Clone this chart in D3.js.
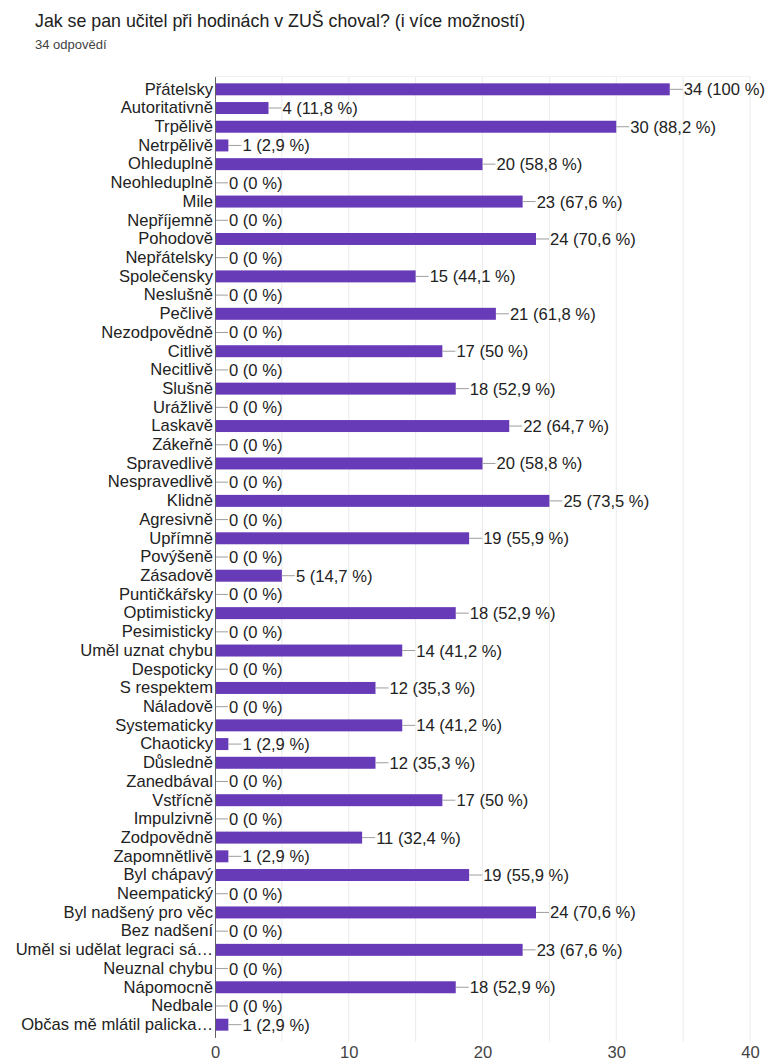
<!DOCTYPE html>
<html>
<head>
<meta charset="utf-8">
<script src="https://cdn.jsdelivr.net/npm/d3@7"></script>
<style>
  body { margin: 0; background: #fff; }
  svg text { font-family: "Liberation Sans", Arial, sans-serif; }
</style>
</head>
<body>
<svg id="chart" width="767" height="1062"></svg>
<script>
var categories = [
  "Přátelsky", "Autoritativně", "Trpělivě", "Netrpělivě", "Ohleduplně", "Neohleduplně",
  "Mile", "Nepříjemně", "Pohodově", "Nepřátelsky", "Společensky", "Neslušně",
  "Pečlivě", "Nezodpovědně", "Citlivě", "Necitlivě", "Slušně", "Urážlivě",
  "Laskavě", "Zákeřně", "Spravedlivě", "Nespravedlivě", "Klidně", "Agresivně",
  "Upřímně", "Povýšeně", "Zásadově", "Puntičkářsky", "Optimisticky", "Pesimisticky",
  "Uměl uznat chybu", "Despoticky", "S respektem", "Náladově", "Systematicky", "Chaoticky",
  "Důsledně", "Zanedbával", "Vstřícně", "Impulzivně", "Zodpovědně", "Zapomnětlivě",
  "Byl chápavý", "Neempatický", "Byl nadšený pro věc", "Bez nadšení",
  "Uměl si udělat legraci sá…", "Neuznal chybu", "Nápomocně", "Nedbale",
  "Občas mě mlátil palicka…"
];
var counts = [
  34, 4, 30, 1, 20, 0,
  23, 0, 24, 0, 15, 0,
  21, 0, 17, 0, 18, 0,
  22, 0, 20, 0, 25, 0,
  19, 0, 5, 0, 18, 0,
  14, 0, 12, 0, 14, 1,
  12, 0, 17, 0, 11, 1,
  19, 0, 24, 0,
  23, 0, 18, 0,
  1
];
var totalResponses = 34;
var xTicks = [0, 10, 20, 30, 40];

var svg = d3.select("#chart"),
  margin = { top: 76.6, right: 17, bottom: 24.6, left: 215 },
  width = +svg.attr("width"),
  height = +svg.attr("height");

var data = categories.map((c, i) => ({ name: c, value: counts[i] }));

// title
svg.append("text")
  .attr("x", 35).attr("y", 27)
  .style("font-size", "17.8px").style("fill", "#212121")
  .text("Jak se pan učitel při hodinách v ZUŠ choval? (i více možností)");
svg.append("text")
  .attr("x", 35).attr("y", 49)
  .style("font-size", "13px").style("fill", "#424242")
  .text(totalResponses + " odpovědí");

var x = d3.scaleLinear().domain([0, 40]).range([margin.left, width - margin.right]);
var y = d3.scaleBand()
  .domain(categories)
  .range([margin.top, height - margin.bottom])
  .padding(0.36);

// grid
svg.append("g")
  .selectAll("line")
  .data(d3.range(5, 45, 5))
  .join("line")
  .attr("x1", (d) => x(d)).attr("x2", (d) => x(d))
  .attr("y1", margin.top).attr("y2", height - margin.bottom + 4)
  .style("stroke", "#ebebeb").style("stroke-width", 1);

svg.append("line")
  .attr("x1", margin.left).attr("x2", x(40))
  .attr("y1", margin.top).attr("y2", margin.top)
  .style("stroke", "#f0f0f0");

// bars
svg.append("g")
  .selectAll("rect")
  .data(data)
  .join("rect")
  .attr("x", x(0))
  .attr("y", (d) => y(d.name))
  .attr("width", (d) => x(d.value) - x(0))
  .attr("height", y.bandwidth())
  .style("fill", "#673ab7");

// leader lines and value labels
var pct = (v) => {
  var p = Math.round(v / totalResponses * 1000) / 10;
  return String(p).replace(".", ",") + " %";
};

var lbl = svg.append("g").selectAll("g").data(data).join("g");
lbl.append("line")
  .attr("x1", (d) => x(d.value)).attr("x2", (d) => x(d.value) + 13)
  .attr("y1", (d) => y(d.name) + y.bandwidth() / 2)
  .attr("y2", (d) => y(d.name) + y.bandwidth() / 2)
  .style("stroke", "#9e9e9e").style("stroke-width", 1);
lbl.append("text")
  .attr("x", (d) => x(d.value) + 14)
  .attr("y", (d) => y(d.name) + y.bandwidth() / 2)
  .attr("dy", "0.36em")
  .style("font-size", "16.6px").style("fill", "#222")
  .text((d) => d.value + " (" + pct(d.value) + ")");

// y axis
var yAxis = svg.append("g")
  .attr("transform", "translate(" + margin.left + ",0)")
  .call(d3.axisLeft(y).tickSize(0).tickPadding(2));
yAxis.select(".domain").style("stroke", "#616161");
yAxis.selectAll("text")
  .style("font-size", "16.6px").style("fill", "#222")
  .style("font-family", "'Liberation Sans', Arial, sans-serif");

// x axis labels
var xAxis = svg.append("g")
  .attr("transform", "translate(0," + (height - margin.bottom) + ")")
  .call(d3.axisBottom(x).tickValues(xTicks).tickSize(0).tickPadding(9));
xAxis.select(".domain").remove();
xAxis.selectAll("text")
  .style("font-size", "16.6px").style("fill", "#444")
  .style("font-family", "'Liberation Sans', Arial, sans-serif");
</script>
</body>
</html>
